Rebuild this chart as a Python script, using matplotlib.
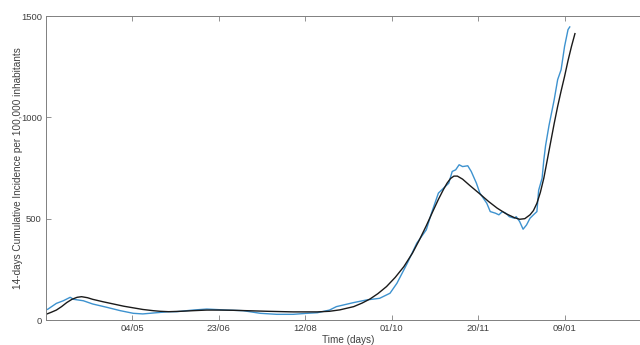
import matplotlib
matplotlib.use("Agg")
import matplotlib.pyplot as plt

plt.rcParams['font.family'] = ['Liberation Sans', 'DejaVu Sans']

# days since 15/03/2020
blue_days = [0, 1, 6, 10, 14, 16, 21.6, 27, 35, 43, 50.5, 56, 64, 71, 75.6, 85, 93,
             104.6, 114, 124, 133.5, 143, 151, 157, 164, 168, 178, 185.5, 193, 199,
             203, 209, 214.5, 220, 223, 227, 231, 233, 235, 237, 239, 241, 244, 246,
             249, 251, 255, 257, 260, 262, 264, 266, 268, 271, 272, 274, 276, 278,
             280, 282, 284, 285, 287, 288, 289, 291, 294, 296, 298, 300, 302, 303]
blue_vals = [50, 53, 82, 95, 112, 102, 95, 79, 63, 46, 33, 30, 36, 41, 41, 49, 54,
             49, 46, 33, 28, 28, 33, 36, 49, 66, 86, 99, 107, 132,
             181, 280, 379, 445, 527, 626, 659, 675, 733, 741, 766, 757, 761, 733,
             675, 626, 576, 535, 527, 519, 535, 527, 510, 502, 510, 486, 448, 469,
             502, 519, 535, 640, 700, 790, 860, 960, 1087, 1186, 1235, 1350, 1433, 1446]

fit_days = [0, 3, 6, 9, 12, 15, 18, 20.6, 24, 27, 33, 39, 45, 50.5, 56, 62, 66, 71,
            78, 85, 93, 100, 108, 116, 128, 143, 157, 164, 170, 178, 183, 187.5,
            192, 197, 202, 207, 212, 216, 220, 224, 227, 230, 232, 234, 236, 238,
            241, 245, 251, 256, 261, 266, 271, 274, 277, 280, 282, 284, 286, 288,
            290, 292, 294, 296, 298, 300, 302, 304, 306]
fit_vals = [28, 38, 49, 66, 86, 102, 112, 115, 110, 102, 90, 79, 68, 60, 52, 46, 43, 41,
            43, 46, 49, 49, 48, 46, 43, 40, 40, 43, 50, 66, 84, 104,
            130, 165, 210, 263, 330, 395, 465, 540, 595, 645, 675, 698, 710, 710,
            695, 665, 622, 585, 552, 525, 505, 497, 500, 519, 540, 576, 630, 700,
            790, 880, 970, 1054, 1130, 1202, 1280, 1350, 1413]

xtick_pos = [50, 100, 150, 200, 250, 300]
xtick_labels = ['04/05', '23/06', '12/08', '01/10', '20/11', '09/01']
ytick_pos = [0, 500, 1000, 1500]

fig = plt.figure(figsize=(6.4, 3.45), dpi=100)
ax = fig.add_axes([46/640, 1 - 320/345, (651 - 46)/640, (320 - 16)/345])

ax.plot(blue_days, blue_vals, color='#3d92cf', lw=1.0)
ax.plot(fit_days, fit_vals, color='#1a1a1a', lw=1.0)

ax.set_xlim(0, 350)
ax.set_ylim(0, 1500)
ax.set_xticks(xtick_pos)
ax.set_xticklabels(xtick_labels)
ax.set_yticks(ytick_pos)
ax.tick_params(direction='in', top=True, right=True, length=3.5, width=0.6,
               colors='#808080', labelcolor='#404040', labelsize=6.8, pad=3)
for s in ax.spines.values():
    s.set_color('#808080')
    s.set_linewidth(0.7)

ax.set_xlabel('Time (days)', fontsize=7.2, color='#404040', labelpad=1)
ax.set_ylabel('14-days Cumulative Incidence per 100,000 inhabitants', fontsize=7.2,
              color='#404040', labelpad=-1.5)

fig.savefig('out.png', dpi=100)
